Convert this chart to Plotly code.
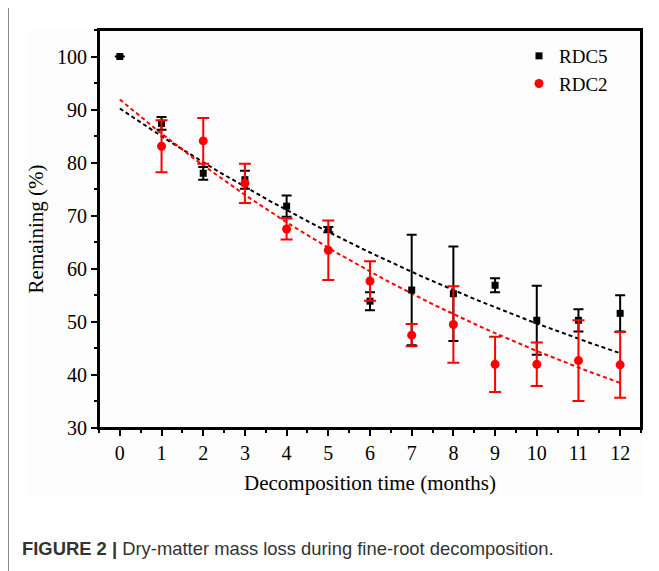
import numpy as np
import plotly.graph_objects as go

# ---- data ----
months = [0, 1, 2, 3, 4, 5, 6, 7, 8, 9, 10, 11, 12]
rdc5_x = months
rdc5_y = [100, 87.4, 78.0, 76.8, 71.8, 67.4, 53.9, 56.0, 55.3, 56.9, 50.3, 50.3, 51.6]
rdc5_err = [None, 1.2, 1.2, 1.7, 2.0, 0.5, 1.7, 10.4, 8.9, 1.3, 6.5, 2.1, 3.4]

rdc2_x = [1, 2, 3, 4, 5, 6, 7, 8, 9, 10, 11, 12]
rdc2_y = [83.1, 84.1, 76.1, 67.5, 63.5, 57.7, 47.5, 49.5, 42.0, 42.0, 42.7, 41.9]
rdc2_err = [4.9, 4.3, 3.7, 2.0, 5.6, 3.7, 2.1, 7.2, 5.2, 4.1, 7.6, 6.2]

# exponential fit curves: value at month 0 and month 12
rdc5_fit_start, rdc5_fit_end = 90.2, 44.1
rdc2_fit_start, rdc2_fit_end = 91.9, 38.5

x_ticks = list(range(0, 13))
y_ticks = [30, 40, 50, 60, 70, 80, 90, 100]

caption_bold = "FIGURE 2 |"
caption_text = " Dry-matter mass loss during fine-root decomposition."


def exp_curve(start, end, xs):
    k = np.log(start / end) / 12.0
    return start * np.exp(-k * xs)


fit_x = np.linspace(0, 12, 121)

# page body has an 8px margin: lay out in reference pixel coordinates minus 8
OFF = 8
W, H = 659 - OFF, 571 - OFF
L, R, T, B = 99 - OFF, 659 - 641, 30 - OFF, 571 - 428
pw, ph = W - L - R, H - T - B


def px(x):
    return (x - OFF - L) / pw


def py(y):
    return (H - B - (y - OFF)) / ph


fig = go.Figure()

fig.add_trace(go.Scatter(
    x=fit_x, y=exp_curve(rdc5_fit_start, rdc5_fit_end, fit_x), mode="lines",
    line=dict(color="black", width=2, dash="4px,3px"), showlegend=False, hoverinfo="skip"))
fig.add_trace(go.Scatter(
    x=fit_x, y=exp_curve(rdc2_fit_start, rdc2_fit_end, fit_x), mode="lines",
    line=dict(color="#ff0000", width=2, dash="4px,3px"), showlegend=False, hoverinfo="skip"))

fig.add_trace(go.Scatter(
    x=rdc5_x, y=rdc5_y, mode="markers", name="RDC5",
    marker=dict(symbol="square", size=7, color="black"),
    error_y=dict(type="data", array=rdc5_err, visible=True, color="black", thickness=2, width=5)))
fig.add_trace(go.Scatter(
    x=rdc2_x, y=rdc2_y, mode="markers", name="RDC2",
    marker=dict(symbol="circle", size=9, color="#ff0000"),
    error_y=dict(type="data", array=rdc2_err, visible=True, color="#ff0000", thickness=2, width=6)))

serif = "Liberation Serif, Times New Roman, serif"

fig.update_xaxes(
    range=[-0.5, 12.5], tickvals=x_ticks, ticktext=[str(v) for v in x_ticks],
    showgrid=False, zeroline=False, showline=True, linecolor="black", linewidth=2, mirror=True,
    ticks="outside", ticklen=6, tickwidth=2, tickcolor="black",
    minor=dict(dtick=0.5, tick0=0, ticks="outside", ticklen=3, tickwidth=2, tickcolor="black"),
    tickfont=dict(family=serif, size=20, color="black"),
    title=dict(text="Decomposition time (months)", font=dict(family=serif, size=21, color="black"), standoff=12),
)
fig.update_yaxes(
    range=[30, 105], tickvals=y_ticks, ticktext=[str(v) for v in y_ticks],
    showgrid=False, zeroline=False, showline=True, linecolor="black", linewidth=2, mirror=True,
    ticks="outside", ticklen=6, tickwidth=2, tickcolor="black",
    minor=dict(dtick=5, tick0=30, ticks="outside", ticklen=3, tickwidth=2, tickcolor="black"),
    tickfont=dict(family=serif, size=20, color="black"),
    title=dict(text="Remaining (%)", font=dict(family=serif, size=21, color="black"), standoff=8),
)

fig.update_layout(
    width=W, height=H,
    margin=dict(l=L, r=R, t=T, b=B, pad=0),
    paper_bgcolor="white", plot_bgcolor="rgba(0,0,0,0)",
    legend=dict(x=px(519), y=py(37), xanchor="left", yanchor="top",
                bgcolor="rgba(0,0,0,0)", font=dict(family=serif, size=19, color="black"),
                tracegroupgap=0),
    shapes=[
        dict(type="rect", xref="paper", yref="paper", x0=px(27), x1=px(642), y0=py(495), y1=py(29),
             fillcolor="#fdfdfd", line=dict(width=0), layer="below"),
        dict(type="line", xref="paper", yref="paper", x0=px(8.5), x1=px(8.5), y0=py(571), y1=py(7.5),
             line=dict(color="#888888", width=1)),
        dict(type="line", xref="paper", yref="paper", x0=px(8.5), x1=px(659), y0=py(7.5), y1=py(7.5),
             line=dict(color="#888888", width=1)),
        # plot frame
        dict(type="rect", xref="paper", yref="paper", x0=0, x1=1, y0=0, y1=1,
             fillcolor="rgba(0,0,0,0)", line=dict(color="black", width=2), layer="above"),
    ],
    annotations=[
        dict(xref="paper", yref="paper", x=px(20), y=py(548), xanchor="left", yanchor="middle",
             showarrow=False, align="left",
             text="<b>" + caption_bold + "</b>" + caption_text,
             font=dict(family="Liberation Sans, Arial, sans-serif", size=18.4, color="#333333")),
    ],
)

fig.write_html("out.html")
